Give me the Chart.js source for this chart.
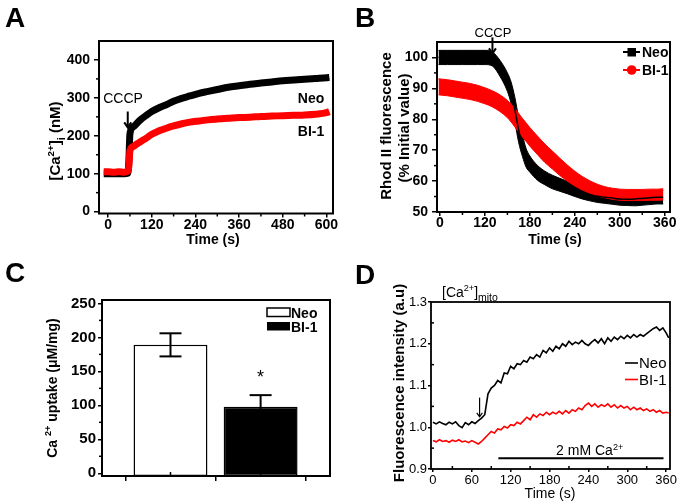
<!DOCTYPE html>
<html>
<head>
<meta charset="utf-8">
<title>Ca2+ panels</title>
<script src="https://cdn.jsdelivr.net/npm/chart.js@4.4.1/dist/chart.umd.min.js"></script>
<style>
  body { margin: 0; background: #fff; }
  #wrap { position: relative; width: 685px; height: 504px; overflow: hidden; font-family: "Liberation Sans", Arial, sans-serif; }
  canvas { position: absolute; }
  .tag { position: absolute; font-weight: bold; font-size: 28px; line-height: 28px; color: #000; }
</style>
</head>
<body>
<div id="wrap">
  <canvas id="chartA" width="345" height="250" style="left:0;top:0"></canvas>
  <canvas id="chartB" width="340" height="250" style="left:345px;top:0"></canvas>
  <canvas id="chartC" width="345" height="254" style="left:0;top:250px"></canvas>
  <canvas id="chartD" width="340" height="254" style="left:345px;top:250px"></canvas>
  <div class="tag" style="left:5px;top:4px">A</div>
  <div class="tag" style="left:355px;top:4px">B</div>
  <div class="tag" style="left:5px;top:259px">C</div>
  <div class="tag" style="left:355px;top:261px">D</div>
</div>
<script>
// Panel A - cytosolic Ca2+ after CCCP
const A_TIME = [-12, 0, 15, 30, 45, 54, 57, 60, 70, 80, 90, 105, 120, 140, 160, 180, 200, 225, 250, 275, 300, 330, 360, 390, 420, 450, 480, 510, 540, 570, 600, 608];
const A_NEO = [100, 100, 100, 100, 100, 101, 132, 205, 224, 234, 243, 254, 264, 274, 282, 291, 298, 305, 312, 317, 322, 328, 332, 336, 339, 342, 345, 347, 349, 351, 353, 354];
const A_BI1 = [105, 105, 104, 105, 104, 106, 120, 160, 172, 179, 185, 194, 204, 213, 220, 226, 231, 236, 239, 242, 244, 246, 248, 249, 251, 252, 253, 254, 255, 257, 261, 264];
const A_XTICKS = [0, 120, 240, 360, 480, 600];
const A_XLABELS = ['0', '120', '240', '360', '480', '600'];
const A_YTICKS = [0, 100, 200, 300, 400];
const A_YLABELS = ['0', '100', '200', '300', '400'];
const A_CCCP = { t: 54, from: 264, to: 222 };

// Panel B - Rhod II fluorescence (mean and error)
const B_TIME = [58, 70, 80, 90, 100, 110, 120, 130, 140, 150, 155, 160, 165, 170, 175, 180, 190, 200, 210, 220, 230, 240, 250, 260, 270, 280, 290, 300, 310, 320, 330, 340, 350, 358];
const B_NEO = [100, 100, 100, 100, 100, 100, 100, 99.5, 96.5, 92, 88.5, 83, 76.5, 71.5, 67.5, 65.5, 62.7, 61, 59.7, 58.8, 57.9, 57, 56.2, 55.6, 55.1, 54.8, 54.5, 54.2, 54.1, 54.2, 54.4, 54.6, 54.8, 54.8];
const B_NEO_ERR = [2.3, 2.3, 2.3, 2.3, 2.3, 2.3, 2.3, 2.3, 2.6, 3, 3.5, 4, 4, 3.5, 3, 2.6, 2.4, 2.2, 2.2, 2.1, 2, 2, 2, 2, 2, 2, 2, 2, 2, 2.2, 2.2, 2.2, 2.2, 2.2];
const B_BI1 = [90.5, 90.2, 89.8, 89.4, 89, 88.4, 87.6, 86.6, 85.2, 83.3, 82, 80.5, 78.9, 77.3, 75.8, 74.3, 71.6, 69, 66.8, 64.6, 62.6, 60.8, 59.3, 58.1, 57.1, 56.4, 55.9, 55.6, 55.5, 55.5, 55.5, 55.6, 55.6, 55.7];
const B_BI1_ERR = [2.6, 2.6, 2.6, 2.6, 2.6, 2.6, 2.6, 2.6, 2.7, 2.8, 2.9, 3, 3, 3, 3, 3, 3, 3, 2.9, 2.8, 2.6, 2.4, 2.2, 2, 1.9, 1.8, 1.8, 1.8, 1.8, 1.8, 1.8, 1.8, 1.8, 1.8];
const B_XTICKS = [60, 120, 180, 240, 300, 360];
const B_XLABELS = ['0', '120', '180', '240', '300', '360'];
const B_YTICKS = [50, 60, 70, 80, 90, 100];
const B_YLABELS = ['50', '60', '70', '80', '90', '100'];
const B_CCCP = { t: 130, from: 106.5, to: 101.3 };

// Panel C - mitochondrial Ca2+ uptake
const C_GROUPS = ['Neo', 'BI-1'];
const C_POS = [1, 2];
const C_VALUES = [189, 98];
const C_ERR = [17, 17];
const C_YTICKS = [0, 50, 100, 150, 200, 250];
const C_YLABELS = ['0', '50', '100', '150', '200', '250'];

// Panel D - [Ca2+]mito trace
const D_TIME = [0, 5, 10, 15, 20, 25, 30, 35, 40, 45, 50, 55, 60, 65, 70, 75, 80, 85, 90, 95, 100, 105, 110, 115, 120, 125, 130, 135, 140, 145, 150, 155, 160, 165, 170, 175, 180, 185, 190, 195, 200, 205, 210, 215, 220, 225, 230, 235, 240, 245, 250, 255, 260, 265, 270, 275, 280, 285, 290, 295, 300, 305, 310, 315, 320, 325, 330, 335, 340, 345, 350, 355, 360, 364];
const D_NEO = [1.012, 1.008, 1.013, 1.009, 1.006, 1.012, 1.008, 1.013, 1.004, 0.999, 1.011, 1.006, 1.013, 1.009, 1.016, 1.022, 1.030, 1.080, 1.094, 1.100, 1.112, 1.106, 1.130, 1.128, 1.146, 1.140, 1.152, 1.150, 1.160, 1.156, 1.168, 1.164, 1.174, 1.168, 1.184, 1.178, 1.190, 1.182, 1.194, 1.188, 1.200, 1.194, 1.206, 1.198, 1.204, 1.200, 1.208, 1.200, 1.196, 1.204, 1.210, 1.202, 1.212, 1.200, 1.214, 1.206, 1.216, 1.210, 1.218, 1.212, 1.220, 1.214, 1.222, 1.216, 1.222, 1.218, 1.224, 1.230, 1.236, 1.240, 1.232, 1.238, 1.226, 1.214];
const D_BI1 = [0.968, 0.965, 0.970, 0.966, 0.968, 0.964, 0.969, 0.966, 0.970, 0.965, 0.967, 0.963, 0.968, 0.964, 0.960, 0.966, 0.974, 0.982, 0.990, 0.986, 0.996, 0.994, 1.002, 0.998, 1.006, 1.004, 1.012, 1.008, 1.016, 1.024, 1.018, 1.030, 1.024, 1.032, 1.028, 1.036, 1.030, 1.036, 1.032, 1.038, 1.032, 1.040, 1.034, 1.042, 1.038, 1.046, 1.042, 1.052, 1.058, 1.050, 1.056, 1.048, 1.054, 1.050, 1.056, 1.048, 1.054, 1.046, 1.052, 1.046, 1.050, 1.042, 1.048, 1.042, 1.046, 1.040, 1.044, 1.038, 1.042, 1.036, 1.040, 1.034, 1.036, 1.034];
const D_BAR_T = [101, 356];
const D_BAR_Y = [0.926, 0.926];
const D_XTICKS = [0, 60, 120, 180, 240, 300, 360];
const D_XLABELS = ['0', '60', '120', '180', '240', '300', '360'];
const D_YTICKS = [0.9, 1.0, 1.1, 1.2, 1.3];
const D_YLABELS = ['0.9', '1.0', '1.1', '1.2', '1.3'];
const D_ARROW = { t: 72, from: 1.071, to: 1.025 };

const FONT = '"Liberation Sans", Arial, sans-serif';
const RED = '#ff0000';
Chart.defaults.font.family = FONT;

function pts(xs, ys) {
    return xs.map(function (x, i) { return { x: x, y: ys[i] }; });
}

function axis(o) {
    return {
        type: 'linear',
        min: o.min,
        max: o.max,
        offset: false,
        afterBuildTicks: function (s) { s.ticks = o.ticks.map(function (v) { return { value: v }; }); },
        afterFit: function (s) {
            if (s.isHorizontal()) s.height = o.size; else s.width = o.size;
            s.paddingLeft = s.paddingRight = s.paddingTop = s.paddingBottom = 0;
        },
        border: { display: false },
        grid: { display: true, offset: false, drawOnChartArea: false, drawTicks: true, tickLength: o.tick, color: '#000', lineWidth: 1.5 },
        ticks: {
            color: '#000', padding: o.pad, autoSkip: false, maxRotation: 0, minRotation: 0,
            font: { family: FONT, size: o.font || 14, weight: o.weight || 'bold' },
            callback: function (v, i) { return o.labels ? o.labels[i] : ''; }
        }
    };
}

function seg(ctx, x1, y1, x2, y2) {
    ctx.beginPath();
    ctx.moveTo(x1, y1);
    ctx.lineTo(x2, y2);
    ctx.stroke();
}

function arrowDown(ctx, x, y1, y2, head, lw) {
    ctx.lineWidth = lw;
    seg(ctx, x, y1, x, y2);
    ctx.beginPath();
    ctx.moveTo(x - head * 0.7, y2 - head);
    ctx.lineTo(x, y2);
    ctx.lineTo(x + head * 0.7, y2 - head);
    ctx.stroke();
}

// text with superscript (1) / subscript (-1) pieces; y is the cap-height centre
function rich(ctx, t) {
    const size = t.size, weight = t.weight || 'normal';
    const fontOf = function (k) { return weight + ' ' + (k === 1 ? size * 0.65 : k === -1 ? size * 0.75 : size) + 'px ' + FONT; };
    const parts = t.parts.map(function (p) { return typeof p === 'string' ? [p, 0] : p; });
    ctx.save();
    ctx.translate(t.x, t.y);
    if (t.rot) ctx.rotate(t.rot);
    let w = 0;
    parts.forEach(function (p) { ctx.font = fontOf(p[1]); w += ctx.measureText(p[0]).width; });
    let cx = t.align === 'left' ? 0 : -w / 2;
    ctx.fillStyle = t.color || '#000';
    ctx.textAlign = 'left';
    ctx.textBaseline = 'alphabetic';
    parts.forEach(function (p) {
        ctx.font = fontOf(p[1]);
        const dy = p[1] === 1 ? -size * 0.4 : (p[1] === -1 ? size * 0.28 : 0);
        ctx.fillText(p[0], cx, size * 0.36 + dy);
        cx += ctx.measureText(p[0]).width;
    });
    ctx.restore();
}

// frame, minor ticks, labels and extras
function decor(cfg) {
    return {
        id: 'decor',
        afterDatasetsDraw: function (chart) {
            const ctx = chart.ctx, a = chart.chartArea, x = chart.scales.x, y = chart.scales.y;
            ctx.save();
            ctx.strokeStyle = '#000';
            ctx.fillStyle = '#000';
            ctx.lineWidth = 1.5;
            (cfg.xMinor || []).forEach(function (v) {
                const p = x.getPixelForValue(v);
                seg(ctx, p, a.bottom, p, a.bottom + cfg.xMinorLen);
            });
            (cfg.yMinor || []).forEach(function (v) {
                const p = y.getPixelForValue(v);
                seg(ctx, a.left, p, a.left - cfg.yMinorLen, p);
            });
            ctx.lineWidth = cfg.frame || 2;
            ctx.strokeRect(a.left, a.top, a.right - a.left, a.bottom - a.top);
            if (cfg.extra) cfg.extra(ctx, x, y, a);
            (cfg.texts || []).forEach(function (t) { rich(ctx, t); });
            ctx.restore();
        }
    };
}

function baseOptions(pad, scales) {
    return {
        responsive: false,
        animation: false,
        devicePixelRatio: 1,
        layout: { padding: pad, autoPadding: false },
        plugins: { legend: { display: false }, tooltip: { enabled: false } },
        scales: scales
    };
}

const UP = -Math.PI / 2;

// ---- A ----
new Chart(document.getElementById('chartA'), {
    type: 'line',
    data: {
        datasets: [
            { data: pts(A_TIME, A_BI1), borderColor: RED, borderWidth: 7, pointRadius: 0, cubicInterpolationMode: 'monotone', borderJoinStyle: 'round', order: 0 },
            { data: pts(A_TIME, A_NEO), borderColor: '#000', borderWidth: 7, pointRadius: 0, cubicInterpolationMode: 'monotone', borderJoinStyle: 'round', order: 1 }
        ]
    },
    options: baseOptions({ top: 41, right: 12, left: 0, bottom: 0 }, {
        x: axis({ min: -25, max: 618, ticks: A_XTICKS, labels: A_XLABELS, size: 36.5, tick: 4, pad: -1 }),
        y: axis({ min: -5, max: 450, ticks: A_YTICKS, labels: A_YLABELS, size: 99, tick: 5, pad: 4 })
    }),
    plugins: [decor({
        xMinor: [60, 180, 300, 420, 540], xMinorLen: 3,
        yMinor: [50, 150, 250, 350], yMinorLen: 3,
        extra: function (ctx, x, y) {
            arrowDown(ctx, x.getPixelForValue(A_CCCP.t), y.getPixelForValue(A_CCCP.from), y.getPixelForValue(A_CCCP.to), 5, 2);
        },
        texts: [
            { x: 123, y: 98, parts: ['CCCP'], size: 14 },
            { x: 311, y: 98, parts: ['Neo'], size: 14, weight: 'bold' },
            { x: 311, y: 131, parts: ['BI-1'], size: 14, weight: 'bold' },
            { x: 213, y: 239, parts: ['Time (s)'], size: 14, weight: 'bold' },
            { x: 55, y: 141, rot: UP, parts: ['[Ca', ['2+', 1], ']', ['i', -1], ' (nM)'], size: 15, weight: 'bold' }
        ]
    })]
});

// ---- B ----
function band(vals, errs, sign) {
    return vals.map(function (v, i) { return v + sign * errs[i]; });
}
new Chart(document.getElementById('chartB'), {
    type: 'line',
    data: {
        datasets: [
            { data: pts(B_TIME, band(B_NEO, B_NEO_ERR, 1)), borderColor: '#000', borderWidth: 1, pointRadius: 0, cubicInterpolationMode: 'monotone', fill: false, order: 3 },
            { data: pts(B_TIME, band(B_NEO, B_NEO_ERR, -1)), borderColor: '#000', borderWidth: 1, pointRadius: 0, cubicInterpolationMode: 'monotone', fill: '-1', backgroundColor: '#000', order: 3 },
            { data: pts(B_TIME, band(B_BI1, B_BI1_ERR, 1)), borderColor: RED, borderWidth: 1, pointRadius: 0, cubicInterpolationMode: 'monotone', fill: false, order: 2 },
            { data: pts(B_TIME, band(B_BI1, B_BI1_ERR, -1)), borderColor: RED, borderWidth: 1, pointRadius: 0, cubicInterpolationMode: 'monotone', fill: '-1', backgroundColor: RED, order: 2 },
            { data: pts(B_TIME, B_NEO), borderColor: '#000', borderWidth: 1.5, pointRadius: 0, cubicInterpolationMode: 'monotone', order: 1 }
        ]
    },
    options: baseOptions({ top: 42, right: 15, left: 0, bottom: 0 }, {
        x: axis({ min: 56, max: 367, ticks: B_XTICKS, labels: B_XLABELS, size: 38, tick: 4, pad: -1 }),
        y: axis({ min: 50, max: 105, ticks: B_YTICKS, labels: B_YLABELS, size: 92, tick: 5, pad: 4 })
    }),
    plugins: [decor({
        xMinor: [90, 150, 210, 270, 330], xMinorLen: 3,
        yMinor: [55, 65, 75, 85, 95], yMinorLen: 3,
        extra: function (ctx, x, y) {
            arrowDown(ctx, x.getPixelForValue(B_CCCP.t), y.getPixelForValue(B_CCCP.from), y.getPixelForValue(B_CCCP.to), 5, 2);
            // legend
            ctx.lineWidth = 2;
            ctx.strokeStyle = '#000';
            seg(ctx, 278, 52, 295, 52);
            ctx.fillStyle = '#000';
            ctx.fillRect(282.5, 48, 8.5, 8.5);
            ctx.strokeStyle = RED;
            seg(ctx, 278, 70, 295, 70);
            ctx.fillStyle = RED;
            ctx.beginPath();
            ctx.arc(286.7, 70, 4.8, 0, Math.PI * 2);
            ctx.fill();
            ctx.strokeStyle = '#000';
            ctx.fillStyle = '#000';
        },
        texts: [
            { x: 148, y: 32, parts: ['CCCP'], size: 13 },
            { x: 297, y: 52, parts: ['Neo'], size: 14, weight: 'bold', align: 'left' },
            { x: 297, y: 70, parts: ['BI-1'], size: 14, weight: 'bold', align: 'left', color: '#000' },
            { x: 210, y: 239, parts: ['Time (s)'], size: 14, weight: 'bold' },
            { x: 41, y: 126, rot: UP, parts: ['Rhod II fluorescence'], size: 15, weight: 'bold' },
            { x: 59, y: 128, rot: UP, parts: ['(% Initial value)'], size: 15, weight: 'bold' }
        ]
    })]
});

// ---- C ----
new Chart(document.getElementById('chartC'), {
    type: 'bar',
    data: {
        datasets: [{
            label: C_GROUPS.join(' / '),
            data: pts(C_POS, C_VALUES),
            backgroundColor: ['#ffffff', '#000000'],
            borderColor: '#000',
            borderWidth: 1.5,
            borderSkipped: false,
            barPercentage: 0.82,
            categoryPercentage: 1,
            base: -4
        }]
    },
    options: baseOptions({ top: 50, right: 15, left: 0, bottom: 0 }, {
        x: axis({ min: 0.24, max: 2.77, ticks: [0.5, 1.5, 2.5], size: 28, tick: 5, pad: 0 }),
        y: axis({ min: -4, max: 255, ticks: C_YTICKS, labels: C_YLABELS, size: 102, tick: 4, pad: 2, font: 15 })
    }),
    plugins: [decor({
        xMinor: [1, 2], xMinorLen: -4,
        yMinor: [25, 75, 125, 175, 225], yMinorLen: 3,
        extra: function (ctx, x, y) {
            ctx.lineWidth = 2;
            C_POS.forEach(function (p, i) {
                const cx = x.getPixelForValue(p);
                const top = y.getPixelForValue(C_VALUES[i] + C_ERR[i]);
                const bot = y.getPixelForValue(C_VALUES[i] - C_ERR[i]);
                seg(ctx, cx, top, cx, bot);
                seg(ctx, cx - 11, top, cx + 11, top);
                seg(ctx, cx - 11, bot, cx + 11, bot);
            });
            // legend boxes
            ctx.lineWidth = 1.5;
            ctx.fillStyle = '#fff';
            ctx.fillRect(267, 58, 23, 8.5);
            ctx.strokeRect(267, 58, 23, 8.5);
            ctx.fillStyle = '#000';
            ctx.fillRect(267, 72, 23, 8.5);
            rich(ctx, { x: x.getPixelForValue(C_POS[1]), y: y.getPixelForValue(143), parts: ['*'], size: 18 });
        },
        texts: [
            { x: 291, y: 62.5, parts: [C_GROUPS[0]], size: 14, weight: 'bold', align: 'left' },
            { x: 291, y: 76.5, parts: [C_GROUPS[1]], size: 14, weight: 'bold', align: 'left' },
            { x: 52, y: 138, rot: UP, parts: ['Ca ', ['2+', 1], ' uptake (\u03bcM/mg)'], size: 14, weight: 'bold' }
        ]
    })]
});

// ---- D ----
new Chart(document.getElementById('chartD'), {
    type: 'line',
    data: {
        datasets: [
            { data: pts(D_TIME, D_NEO), borderColor: '#000', borderWidth: 1.6, pointRadius: 0, tension: 0 },
            { data: pts(D_TIME, D_BI1), borderColor: RED, borderWidth: 1.6, pointRadius: 0, tension: 0 },
            { data: pts(D_BAR_T, D_BAR_Y), borderColor: '#000', borderWidth: 2, pointRadius: 0 }
        ]
    },
    options: baseOptions({ top: 52, right: 15, left: 0, bottom: 0 }, {
        x: axis({ min: -3, max: 366, ticks: D_XTICKS, labels: D_XLABELS, size: 35, tick: 3, pad: 1, font: 13, weight: 'normal' }),
        y: axis({ min: 0.9, max: 1.3, ticks: D_YTICKS, labels: D_YLABELS, size: 86, tick: 3, pad: 1, font: 13, weight: 'normal' })
    }),
    plugins: [decor({
        frame: 1.8,
        xMinor: [30, 90, 150, 210, 270, 330], xMinorLen: -3,
        yMinor: [0.95, 1.05, 1.15, 1.25], yMinorLen: -3,
        extra: function (ctx, x, y) {
            arrowDown(ctx, x.getPixelForValue(D_ARROW.t), y.getPixelForValue(D_ARROW.from), y.getPixelForValue(D_ARROW.to), 4, 1.2);
            ctx.lineWidth = 1.6;
            ctx.strokeStyle = '#000';
            seg(ctx, 280, 113, 293, 113);
            ctx.strokeStyle = RED;
            seg(ctx, 280, 129.5, 293, 129.5);
            ctx.strokeStyle = '#000';
            rich(ctx, { x: x.getPixelForValue(242), y: y.getPixelForValue(0.945), parts: ['2 mM Ca', ['2+', 1]], size: 14 });
        },
        texts: [
            { x: 97, y: 42, parts: ['[Ca', ['2+', 1], ']', ['mito', -1]], size: 14, align: 'left' },
            { x: 294, y: 113, parts: ['Neo'], size: 15, align: 'left' },
            { x: 294, y: 129.5, parts: ['BI-1'], size: 15, align: 'left' },
            { x: 205, y: 243, parts: ['Time (s)'], size: 14 },
            { x: 54, y: 133, rot: UP, parts: ['Fluorescence intensity (a.u)'], size: 15, weight: 'bold' }
        ]
    })]
});
</script>
</body>
</html>
